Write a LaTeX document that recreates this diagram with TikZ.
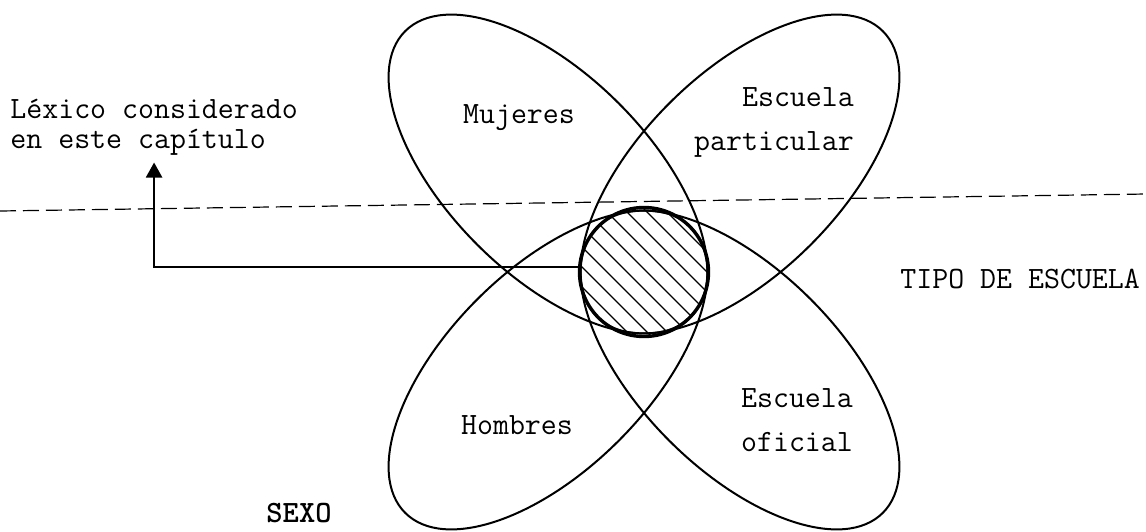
\documentclass[tikz,border=0pt]{standalone}
\usepackage{fontspec}
\usetikzlibrary{arrows.meta}

\begin{document}
\begin{tikzpicture}
  [x=0.5pt,y=0.5pt,
   every node/.style={font=\ttfamily\fontsize{15.5}{22}\selectfont,inner sep=0pt},
   conjunto/.style={line width=1pt},
   separador/.style={line width=0.6pt,dash pattern=on 8pt off 3.5pt},
   flecha/.style={line width=1.2pt,-{Triangle[length=7.5pt,width=8pt]}}]
  \useasboundingbox (0,0) rectangle (1146,-531);

  % los cuatro conjuntos
  \foreach \cx/\cy/\ang in {548/-174/-45, 740/-174/45, 548/-370/45, 740/-370/-45}
    \draw[conjunto,rotate around={\ang:(\cx,\cy)}] (\cx,\cy) ellipse [x radius=202, y radius=100];

  % interseccion rayada
  \begin{scope}
    \clip (644,-272) circle [radius=64.5];
    \foreach \c in {295,315,...,455}
      \draw[line width=0.7pt] (560,\c-560) -- (730,\c-730);
  \end{scope}
  \node[circle,draw,line width=1.7pt,minimum size=64.5pt] (lexico) at (644,-272) {};

  \node (mujeres) at (519,-118) {Mujeres};
  \node[align=right] (particular) at (774,-122) {Escuela\\particular};
  \node (hombres) at (517,-425) {Hombres};
  \node[align=right] (oficial) at (797,-420) {Escuela\\oficial};
  \node[anchor=west] (tipo) at (900,-279) {TIPO DE ESCUELA};
  \node[font=\ttfamily\bfseries\fontsize{15.5}{22}\selectfont] (sexo) at (299,-513) {SEXO};
  \node[align=left,anchor=west,font=\ttfamily\fontsize{15.5}{15}\selectfont] (etiqueta) at (10,-127) {Léxico considerado\\en este capítulo};

  \coordinate (sep a) at (0,-211);
  \coordinate (sep b) at (1146,-194);
  \draw[separador] (sep a) -- (sep b);

  \draw[flecha] ([yshift=2.5pt]lexico.west) -| ([yshift=-3.5pt]etiqueta.south);

\end{tikzpicture}
\end{document}
